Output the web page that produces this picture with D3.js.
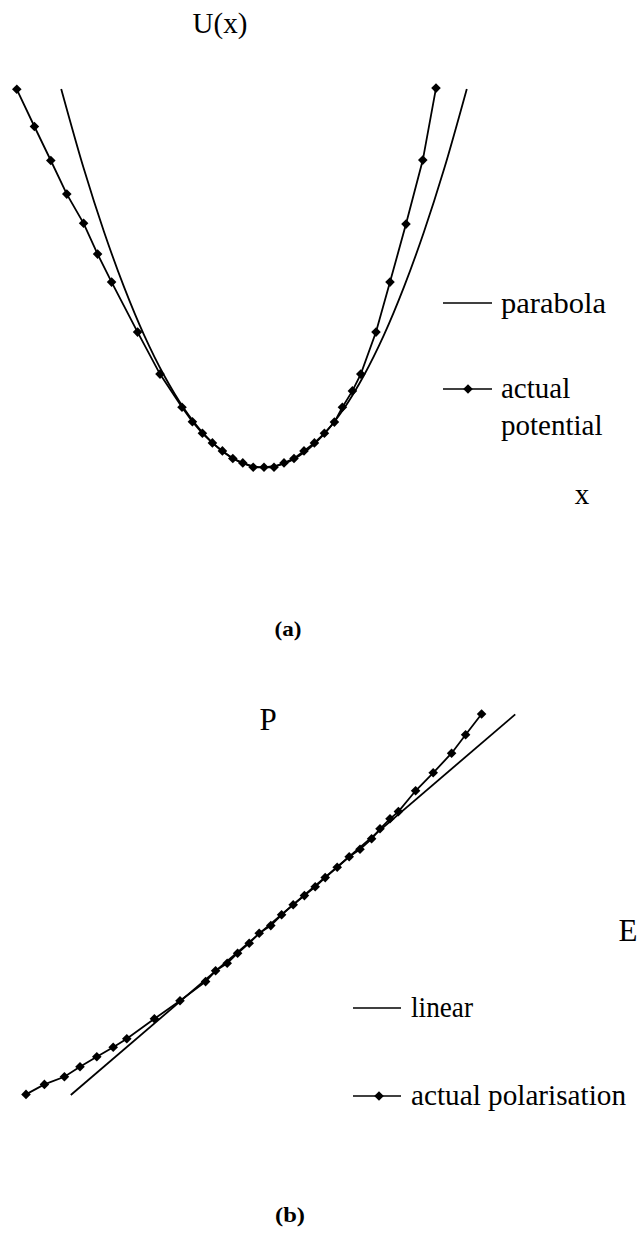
<!DOCTYPE html>
<html><head><meta charset="utf-8">
<script src="https://cdn.jsdelivr.net/npm/d3@7"></script>
<style>body{margin:0;background:#fff}svg{display:block}</style>
</head><body>
<script>
// ---- Panel (a): potential ----
const actualX = [-6.18,-5.74,-5.33,-4.93,-4.51,-4.16,-3.81,-3.16,-2.60,-2.05,-1.79,-1.54,-1.29,-1.04,-0.78,-0.53,-0.27,0,0.25,0.5,0.75,1.0,1.26,1.51,1.76,1.96,2.21,2.42,2.80,3.15,3.55,3.97,4.30];
const actualU = [9.45,8.52,7.67,6.83,6.10,5.33,4.63,3.38,2.33,1.50,1.14,0.85,0.61,0.41,0.22,0.11,0,0,0,0.11,0.22,0.41,0.61,0.85,1.13,1.50,1.91,2.33,3.38,4.63,6.08,7.68,9.48];
const parabolaX = [-5.07,-4.5,-4.0,-3.5,-3.0,-2.5,-2.0,-1.5,-1.0,-0.5,0,0.5,1.0,1.5,2.0,2.5,3.0,3.5,4.0,4.5,5.07];
const parabolaU = [9.46,7.45,5.89,4.51,3.31,2.30,1.47,0.83,0.37,0.09,0,0.09,0.37,0.83,1.47,2.30,3.31,4.51,5.89,7.45,9.46];
// ---- Panel (b): polarisation ----
const polE = [0.15,0.61,1.11,1.50,1.92,2.33,2.67,3.36,4.00,4.64,4.89,5.18,5.44,5.73,5.98,6.27,6.54,6.83,7.11,7.38,7.63,7.93,8.23,8.50,8.79,9.00,9.25,9.46,9.89,10.33,10.79,11.14,11.54];
const polP = [0.14,0.39,0.58,0.83,1.08,1.32,1.53,2.03,2.48,2.96,3.23,3.42,3.67,3.92,4.17,4.36,4.63,4.88,5.11,5.33,5.56,5.82,6.08,6.27,6.53,6.78,7.03,7.21,7.73,8.18,8.67,9.13,9.65];
const linearE = [1.27,12.38];
const linearP = [0.125,9.64];

const W = 639, H = 1233;
const SERIF = "Liberation Serif";
const svg = d3.select("body").append("svg").attr("width", W).attr("height", H)
  .attr("font-family", SERIF);

const FS = 29;
function marker(sel){ return sel.attr("d", d3.symbol().type(d3.symbolSquare).size(46)()); }
function txt(g, x, y, s, size, opts={}){
  const t = g.append("text").attr("x",x).attr("y",y).attr("font-size",size)
    .attr("font-family", SERIF).attr("fill","#000").text(s);
  if(opts.anchor) t.attr("text-anchor", opts.anchor);
  if(opts.bold) t.attr("font-weight","bold");
  if(opts.len) t.attr("textLength", opts.len).attr("lengthAdjust","spacingAndGlyphs");
  return t;
}

// Panel (a)
const xa = d3.scaleLinear().domain([-6, 4.5]).range([24, 444]);
const ya = d3.scaleLinear().domain([0, 9.5]).range([467.3, 87.3]);
const ga = svg.append("g");
const parData = parabolaX.map((x,i)=>[x, parabolaU[i]]);
const actData = actualX.map((x,i)=>[x, actualU[i]]);
ga.append("path").datum(parData).attr("fill","none").attr("stroke","#000").attr("stroke-width",1.8)
  .attr("d", d3.line().x(d=>xa(d[0])).y(d=>ya(d[1])).curve(d3.curveCatmullRom));
ga.append("path").datum(actData).attr("fill","none").attr("stroke","#000").attr("stroke-width",1.8)
  .attr("d", d3.line().x(d=>xa(d[0])).y(d=>ya(d[1])));
ga.selectAll(".m").data(actData).join("path").attr("class","m")
  .call(marker).attr("fill","#000")
  .attr("transform", d=>`translate(${xa(d[0])},${ya(d[1])}) rotate(45)`);

txt(ga, 220, 33, "U(x)", FS, {anchor:"middle"});
txt(ga, 582, 504, "x", FS, {anchor:"middle"});
// legend (a)
ga.append("line").attr("x1",443).attr("x2",492).attr("y1",303).attr("y2",303).attr("stroke","#000").attr("stroke-width",1.5);
txt(ga, 501, 313, "parabola", FS, {len:105});
ga.append("line").attr("x1",443).attr("x2",492).attr("y1",389).attr("y2",389).attr("stroke","#000").attr("stroke-width",1.5);
ga.append("path").call(marker).attr("fill","#000").attr("transform","translate(468,389) rotate(45)");
txt(ga, 501, 398, "actual", FS);
txt(ga, 501, 435, "potential", FS);
txt(ga, 288, 636, "(a)", 21, {anchor:"middle", bold:true, len:27});

// Panel (b)
const xb = d3.scaleLinear().domain([0, 12]).range([20, 500]);
const yb = d3.scaleLinear().domain([0, 10]).range([1100, 700]);
const gb = svg.append("g");
const linData = linearE.map((e,i)=>[e, linearP[i]]);
const polData = polE.map((e,i)=>[e, polP[i]]);
gb.append("path").datum(linData).attr("fill","none").attr("stroke","#000").attr("stroke-width",1.8)
  .attr("d", d3.line().x(d=>xb(d[0])).y(d=>yb(d[1])));
gb.append("path").datum(polData).attr("fill","none").attr("stroke","#000").attr("stroke-width",1.8)
  .attr("d", d3.line().x(d=>xb(d[0])).y(d=>yb(d[1])));
gb.selectAll(".m").data(polData).join("path").attr("class","m")
  .call(marker).attr("fill","#000")
  .attr("transform", d=>`translate(${xb(d[0])},${yb(d[1])}) rotate(45)`);

txt(gb, 268, 730, "P", 31, {anchor:"middle"});
txt(gb, 628, 941, "E", 31, {anchor:"middle"});
gb.append("line").attr("x1",353).attr("x2",401).attr("y1",1008).attr("y2",1008).attr("stroke","#000").attr("stroke-width",1.5);
txt(gb, 411, 1017, "linear", FS, {len:62});
gb.append("line").attr("x1",353).attr("x2",401).attr("y1",1096).attr("y2",1096).attr("stroke","#000").attr("stroke-width",1.5);
gb.append("path").call(marker).attr("fill","#000").attr("transform","translate(379,1096) rotate(45)");
txt(gb, 411, 1105, "actual polarisation", FS, {len:215});
txt(gb, 290, 1222, "(b)", 21, {anchor:"middle", bold:true, len:30});
</script>
</body></html>
